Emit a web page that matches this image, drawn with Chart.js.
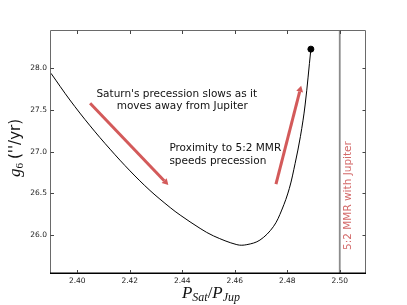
<!DOCTYPE html>
<html><head><meta charset="utf-8">
<script src="https://cdn.jsdelivr.net/npm/chart.js@4.4.0/dist/chart.umd.min.js"></script>
<style>html,body{margin:0;padding:0;background:#fff}canvas{display:block}</style>
</head><body>
<div style="width:407px;height:305px"><canvas id="c" width="407" height="305"></canvas></div>
<script>
// ---- data ----
const periodRatio = [2.390, 2.3972, 2.4049, 2.4125, 2.4201, 2.4277, 2.4354, 2.4392, 2.4468, 2.4519,
                     2.4608, 2.4646, 2.4696, 2.4747, 2.4779, 2.4808, 2.4830, 2.4850, 2.4868, 2.4890];
const g6Rate = [27.94, 27.62, 27.31, 27.03, 26.77, 26.535, 26.33, 26.24, 26.08, 25.99,
                25.885, 25.885, 25.94, 26.10, 26.30, 26.56, 26.86, 27.18, 27.56, 28.23];
const finalState = [2.4890, 28.23];
const resonanceRatio = 2.50;
const xTickValues = [2.40, 2.42, 2.44, 2.46, 2.48, 2.50];
const yTickValues = [26.0, 26.5, 27.0, 27.5, 28.0];
const xRange = [2.39, 2.51];
const yRange = [25.545, 28.4475];
const arrowFrom = [[2.4049, 27.58], [2.4757, 26.61]];
const arrowTo   = [[2.4347, 26.60], [2.4853, 27.79]];
const noteSlow = ["Saturn's precession slows as it", "moves away from Jupiter"];
const noteProx = ["Proximity to 5:2 MMR", "speeds precession"];
const resonanceLabel = "5:2 MMR with Jupiter";

const RED = '#d35a5a';
const curve = periodRatio.map((v, i) => ({x: v, y: g6Rate[i]}));

function runsWidth(ctx, runs){ let w=0; runs.forEach(r=>{ctx.font=r.font; w+=ctx.measureText(r.text).width + (r.gap||0);}); return w; }
function drawRuns(ctx, runs, x0, base){
  let x = x0;
  runs.forEach(r=>{ ctx.font=r.font; ctx.fillText(r.text, x, base + (r.dy||0)); x += ctx.measureText(r.text).width + (r.gap||0); });
}

const decor = {
  id: 'decor',
  afterDatasetsDraw(chart){
    const {ctx, chartArea:a, scales:{x, y}} = chart;
    ctx.save();
    // arrows
    ctx.strokeStyle = RED; ctx.fillStyle = RED; ctx.lineWidth = 3; ctx.lineCap = 'butt';
    arrowFrom.forEach((s, i) => {
      const x1 = x.getPixelForValue(s[0]), y1 = y.getPixelForValue(s[1]);
      const x2 = x.getPixelForValue(arrowTo[i][0]), y2 = y.getPixelForValue(arrowTo[i][1]);
      const ang = Math.atan2(y2 - y1, x2 - x1), hl = 6, hw = 3.5;
      const bx = x2 - hl*Math.cos(ang), by = y2 - hl*Math.sin(ang);
      ctx.beginPath(); ctx.moveTo(x1, y1); ctx.lineTo(bx, by); ctx.stroke();
      ctx.beginPath(); ctx.moveTo(x2, y2);
      ctx.lineTo(bx + hw*Math.sin(ang), by - hw*Math.cos(ang));
      ctx.lineTo(bx - hw*Math.sin(ang), by + hw*Math.cos(ang));
      ctx.closePath(); ctx.fill();
    });
    // notes
    ctx.fillStyle = '#111'; ctx.font = '10.5px "DejaVu Sans"'; ctx.textBaseline = 'middle';
    ctx.textAlign = 'center';
    ctx.fillText(noteSlow[0], x.getPixelForValue(2.4379), y.getPixelForValue(27.688));
    ctx.fillText(noteSlow[1], x.getPixelForValue(2.4400), y.getPixelForValue(27.539));
    ctx.textAlign = 'left';
    ctx.fillText(noteProx[0], x.getPixelForValue(2.4351), y.getPixelForValue(27.04));
    ctx.fillText(noteProx[1], x.getPixelForValue(2.4351), y.getPixelForValue(26.888));
    // vertical label
    ctx.save();
    ctx.translate(x.getPixelForValue(2.5033), y.getPixelForValue(26.474));
    ctx.rotate(-Math.PI/2);
    ctx.fillStyle = '#d36a6a'; ctx.textAlign = 'center';
    ctx.fillText(resonanceLabel, 0, 0);
    ctx.restore();
    // frame
    ctx.lineWidth = 1; ctx.strokeStyle = '#6a6a6a';
    ctx.beginPath();
    ctx.moveTo(a.left - 0.5, a.bottom); ctx.lineTo(a.left - 0.5, a.top - 0.5);
    ctx.lineTo(a.right - 0.5, a.top - 0.5); ctx.lineTo(a.right - 0.5, a.bottom);
    ctx.stroke();
    ctx.strokeStyle = '#000'; ctx.lineWidth = 1.4;
    ctx.beginPath(); ctx.moveTo(a.left - 1, a.bottom + 0.3); ctx.lineTo(a.right, a.bottom + 0.3); ctx.stroke();
    // inward ticks on all four sides
    ctx.lineWidth = 1; ctx.strokeStyle = '#444';
    const tl = 3;
    xTickValues.forEach(v => {
      const px = Math.round(x.getPixelForValue(v)) + 0.5;
      ctx.beginPath(); ctx.moveTo(px, a.bottom); ctx.lineTo(px, a.bottom - tl);
      ctx.moveTo(px, a.top - 0.5); ctx.lineTo(px, a.top + tl); ctx.stroke();
    });
    yTickValues.forEach(v => {
      const py = Math.round(y.getPixelForValue(v)) + 0.5;
      ctx.beginPath(); ctx.moveTo(a.left - 0.5, py); ctx.lineTo(a.left + tl, py);
      ctx.moveTo(a.right - 0.5, py); ctx.lineTo(a.right - 0.5 - tl, py); ctx.stroke();
    });
    ctx.restore();
  },
  afterDraw(chart){
    const {ctx} = chart;
    ctx.save(); ctx.fillStyle = '#111'; ctx.textBaseline = 'alphabetic';
    const serif = '"Liberation Serif"';
    // x title: P_Sat / P_Jup
    const xr = [
      {text:'P', font:'italic 17px '+serif},
      {text:'Sat', font:'italic 12px '+serif, dy:3},
      {text:'/', font:'17px '+serif},
      {text:'P', font:'italic 17px '+serif},
      {text:'Jup', font:'italic 12px '+serif, dy:3}
    ];
    const xw = runsWidth(ctx, xr);
    drawRuns(ctx, xr, 211 - xw/2, 298);
    // y title: g_6 (''/yr)
    const yr = [
      {text:'g', font:'italic 17px '+serif},
      {text:'6', font:'11px '+serif, dy:3, gap:4},
      {text:"(''/yr)", font:'15px "DejaVu Sans"'}
    ];
    const yw = runsWidth(ctx, yr);
    ctx.translate(15, 148); ctx.rotate(-Math.PI/2);
    drawRuns(ctx, yr, -yw/2, 5);
    ctx.restore();
  }
};

new Chart(document.getElementById('c'), {
  type: 'line',
  data: {
    datasets: [
      {label:'g6', data: curve, borderColor:'#000', borderWidth:1, pointRadius:0, tension:0.35, fill:false, order:2},
      {label:'resonance', data:[{x:resonanceRatio, y:yRange[0]}, {x:resonanceRatio, y:yRange[1]}], borderColor:'#8c8c8c', borderWidth:1.8, pointRadius:0, order:3},
      {label:'end', type:'scatter', data:[{x:finalState[0], y:finalState[1]}], pointRadius:3, pointBackgroundColor:'#000', pointBorderColor:'#000', clip:false, order:1}
    ]
  },
  options: {
    responsive:false, animation:false, devicePixelRatio:1,
    layout:{padding:{top:31, right:41, left:0, bottom:0}},
    plugins:{legend:{display:false}, tooltip:{enabled:false}},
    scales:{
      x:{type:'linear', min:xRange[0], max:xRange[1],
         afterBuildTicks: s => { s.ticks = xTickValues.map(v=>({value:v})); },
         afterFit: s => { s.height = 32; },
         grid:{display:false, drawTicks:false}, border:{display:false},
         ticks:{padding:4, color:'#222', font:{family:'"DejaVu Sans"', size:7.5}, maxRotation:0, callback: v => Number(v).toFixed(2)}},
      y:{type:'linear', min:yRange[0], max:yRange[1],
         afterBuildTicks: s => { s.ticks = yTickValues.map(v=>({value:v})); },
         afterFit: s => { s.width = 51; },
         grid:{display:false, drawTicks:false}, border:{display:false},
         ticks:{padding:4, color:'#222', font:{family:'"DejaVu Sans"', size:7.5}, callback: v => Number(v).toFixed(1)}}
    }
  },
  plugins:[decor]
});
</script>
</body></html>
